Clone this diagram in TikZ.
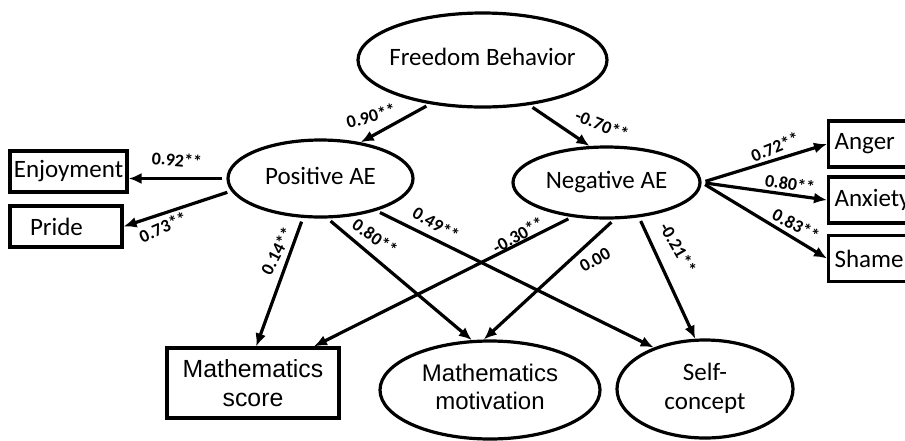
\documentclass[tikz,border=0pt]{standalone}
\usepackage{fontspec}
\setmainfont{Carlito}
\newfontfamily\arialfont{Liberation Sans}
\usetikzlibrary{shapes.geometric,arrows.meta}

\newcommand{\zw}[1]{\makebox[0pt]{\begin{tabular}{@{}c@{}}#1\end{tabular}}}

\begin{document}
\begin{tikzpicture}[x=0.5pt, y=-0.5pt,
    font=\fontsize{12.5}{14.5}\selectfont,
    latent/.style={draw, ellipse, line width=1.6pt, inner sep=0pt},
    obs/.style={draw, rectangle, line width=1.6pt, inner sep=0pt},
    item/.style={obs, anchor=west, minimum width=50pt, minimum height=23pt,
                 inner xsep=3pt, text width=44pt, align=left},
    link/.style={line width=1.6pt, -{Latex[length=6.5pt,width=5.5pt]}, shorten <=2pt},
    coef/.style={font=\fontsize{9}{10}\selectfont\bfseries, inner sep=0pt}]

    \useasboundingbox (0,0) rectangle (905,440);
    \clip (0,0) rectangle (905,440);

    % latent variables
    \node[latent, minimum width=124.5pt, minimum height=47pt] (fb) at (482.5,60) {\zw{Freedom Behavior}};
    \node[latent, minimum width=92.5pt, minimum height=38.5pt] (pae) at (320.5,178.5) {\zw{Positive AE}};
    \node[latent, minimum width=93.5pt, minimum height=35.5pt] (nae) at (606.5,182.5) {\zw{Negative AE}};

    % indicators
    \node[obs, minimum width=58.5pt, minimum height=20.5pt] (enj) at (68.5,171.5) {Enjoyment};
    \node[obs, minimum width=56pt, minimum height=20.5pt, inner xsep=10pt,
          text width=36pt, align=left] (pride) at (66,226.5) {Pride};
    \node[item] (anger) at (827,144) {Anger};
    \node[item] (anx) at (827,200) {Anxiety};
    \node[item] (shame) at (827,258.5) {Shame};

    % outcomes
    \node[obs, minimum width=86pt, minimum height=35pt, align=center,
          font=\arialfont\fontsize{12.4}{14.5}\selectfont] (score) at (253,383) {Mathematics\\score};
    \node[latent, minimum width=110pt, minimum height=49pt,
          font=\arialfont\fontsize{12}{14}\selectfont] (mot) at (490,390) {\zw{Mathematics\\motivation}};
    \node[latent, minimum width=88pt, minimum height=49pt] (sc) at (705,389) {\zw{Self-\\concept}};

    \draw[link] (fb.220) -- (pae.42);
    \draw[link] (fb.316) -- (nae.115);
    \draw[link] (pae.west) -- (enj.east |- pae.west);
    \draw[link] (pae.188) -- (pride.east);
    \draw[link] (nae.east) -- (anger.west);
    \draw[link] (nae.east) -- (anx.west);
    \draw[link] (nae.east) -- (shame.west);
    \draw[link] (pae.246) -- (score.85);
    \draw[link] (pae.280) -- (mot.110);
    \draw[link] (pae.330) -- (sc.141);
    \draw[link] (nae.225) -- (score.31);
    \draw[link] (nae.282) -- (mot.97);
    \draw[link] (nae.313) -- (sc.101);

    % path coefficients
    \foreach \x/\y/\r/\t [count=\i] in {371/116/15/0.90**, 602/125/-22/-0.70**,
        177/160/-5/0.92**, 163/227/24/0.73**, 775/147/22/0.72**, 790/184/-9/0.80**,
        796/225/-28/0.83**, 277/251/62/0.14**, 375/237/-35/0.80**, 436/224/-31/0.49**,
        518/235/29/-0.30**, 595/260/29/0.00, 678/248/-60/-0.21**}
    \node[coef, rotate=\r] (c\i) at (\x,\y) {\t};
\end{tikzpicture}
\end{document}
